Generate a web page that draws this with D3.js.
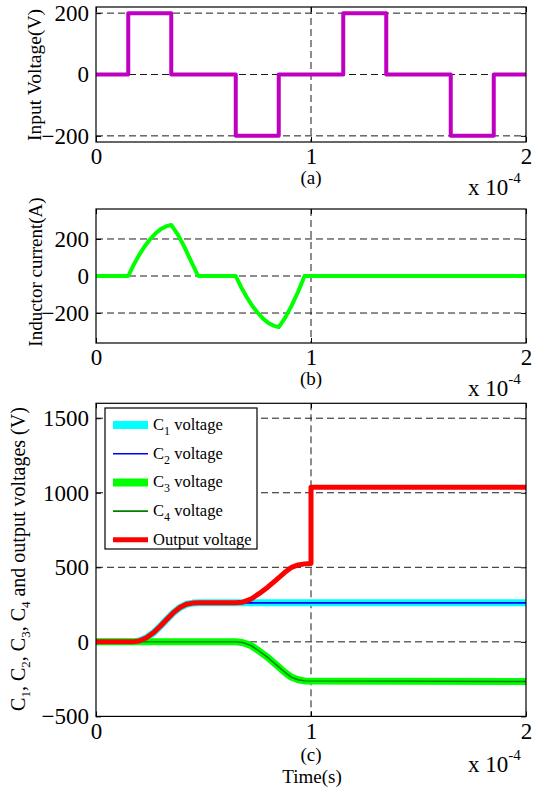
<!DOCTYPE html>
<html>
<head>
<meta charset="utf-8">
<script src="https://cdn.jsdelivr.net/npm/d3@7"></script>
<style>
  body { margin: 0; background: #fff; }
  text { font-family: "Liberation Serif", "Times New Roman", serif; fill: #000; }
</style>
</head>
<body>
<svg id="chart" width="534" height="789"></svg>
<script>
// time is in units of 1e-4 s
const timeTicks = [0, 1, 2];

// (a) input voltage (piecewise constant)
const vinTime = [0, 0.15, 0.35, 0.65, 0.85, 1.15, 1.35, 1.65, 1.85, 2];
const vinLevel = [0, 200, 0, -200, 0, 200, 0, -200, 0, 0];
const vinTicks = [-200, 0, 200];

// (b) inductor current
const iLTime = [0, 0.15, 0.175, 0.2, 0.225, 0.25, 0.275, 0.3, 0.325, 0.35, 0.38, 0.41, 0.44, 0.475,
                0.65, 0.675, 0.7, 0.725, 0.75, 0.775, 0.8, 0.825, 0.85, 0.88, 0.91, 0.94, 0.97, 2];
const iLValue = [0, 0, 60, 112, 158, 196, 228, 252, 268, 276, 225, 160, 85, 0,
                 0, -60, -112, -158, -196, -228, -252, -268, -276, -225, -160, -85, 0, 0];
const iLTicks = [-200, 0, 200];

// (c) capacitor and output voltages
const posTime = [0, 0.17, 0.2, 0.235, 0.27, 0.3, 0.33, 0.36, 0.39, 0.42, 0.45, 0.48, 2];
const c1Volt = [0, 0, 6, 28, 64, 106, 152, 196, 230, 252, 260, 262, 262];
const c2Volt = [0, 0, 6, 28, 64, 106, 152, 196, 230, 252, 260, 262, 262];
const negTime = [0, 0.65, 0.68, 0.72, 0.76, 0.8, 0.84, 0.88, 0.91, 0.94, 0.97, 2];
const c3Volt = [0, 0, -4, -24, -63, -106, -156, -206, -238, -254, -262, -266];
const c4Volt = [0, 0, -4, -24, -63, -106, -156, -206, -238, -254, -262, -266];
const outTime = [0, 0.17, 0.2, 0.235, 0.27, 0.3, 0.33, 0.36, 0.39, 0.42, 0.45, 0.48, 0.65,
                 0.68, 0.72, 0.76, 0.8, 0.84, 0.88, 0.91, 0.94, 0.97, 1.0, 1.0, 2];
const outVolt = [0, 0, 6, 28, 64, 106, 152, 196, 230, 252, 260, 262, 262,
                 265, 286, 325, 368, 418, 468, 500, 516, 523, 526, 1037, 1037];
const outTicks = [-500, 0, 500, 1000, 1500];
const legendNames = [["C", "1", " voltage"], ["C", "2", " voltage"], ["C", "3", " voltage"],
                     ["C", "4", " voltage"], ["Output voltage", "", ""]];

const serif = "'Liberation Serif', 'Times New Roman', serif";
const svg = d3.select("#chart");
const x = d3.scaleLinear().domain([0, 2]).range([96, 526]);

function drawPanel(p) {
  const y = d3.scaleLinear().domain(p.yDomain).range([p.bottom, p.top]);
  const g = svg.append("g");

  // dashed grid
  g.selectAll(".gy").data(p.yTicks.filter(v => v > p.yDomain[0]))
    .enter().append("line")
    .attr("x1", x(0)).attr("x2", x(2))
    .attr("y1", d => y(d)).attr("y2", d => y(d))
    .attr("stroke", "#000").attr("stroke-width", 0.9).attr("stroke-dasharray", "7,4");
  g.append("line")
    .attr("x1", x(1)).attr("x2", x(1)).attr("y1", p.top).attr("y2", p.bottom)
    .attr("stroke", "#000").attr("stroke-width", 0.9).attr("stroke-dasharray", "7,4");

  // axes (MATLAB style, inward ticks)
  g.append("g").attr("transform", `translate(${x(0)},0)`)
    .call(d3.axisLeft(y).tickValues(p.yTicks).tickSize(-5).tickPadding(7).tickFormat(d3.format("d")));
  g.append("g").attr("transform", `translate(${x(2)},0)`)
    .call(d3.axisRight(y).tickValues(p.yTicks).tickSize(-5).tickFormat(""));
  g.append("g").attr("transform", `translate(0,${p.bottom})`)
    .call(d3.axisBottom(x).tickValues(timeTicks).tickSize(-5).tickPadding(6).tickFormat(d3.format("d")));
  g.append("g").attr("transform", `translate(0,${p.top})`)
    .call(d3.axisTop(x).tickValues(timeTicks).tickSize(-5).tickFormat(""));
  g.selectAll(".domain").remove();
  g.selectAll(".tick line").attr("stroke", "#000");
  g.selectAll("g").attr("font-family", serif).attr("font-size", 23);

  // data lines
  p.series.forEach(s => {
    const pts = s.t.map((t, i) => [t, s.v[i]]);
    g.append("path")
      .datum(pts)
      .attr("fill", "none")
      .attr("stroke", s.color)
      .attr("stroke-width", s.width)
      .attr("stroke-linejoin", "round")
      .attr("d", d3.line().x(d => x(d[0])).y(d => y(d[1])).curve(s.curve || d3.curveLinear));
  });

  // frame
  g.append("rect")
    .attr("x", x(0)).attr("y", p.top)
    .attr("width", x(2) - x(0)).attr("height", p.bottom - p.top)
    .attr("fill", "none").attr("stroke", "#000").attr("stroke-width", 1.2);

  // y label (subscripts shift down, the next run shifts back)
  const yl = g.append("text")
    .attr("transform", `translate(${p.yLabelX},${p.yLabelY}) rotate(-90)`)
    .attr("text-anchor", "middle")
    .style("font-size", p.yLabelSize + "px");
  let shift = 0;
  p.yLabel.forEach(part => {
    if (part.sub) {
      yl.append("tspan").text(part.sub).attr("dy", 5).style("font-size", "13px");
      shift = -5;
    } else {
      yl.append("tspan").text(part.t).attr("dy", shift);
      shift = 0;
    }
  });

  // caption and exponent
  g.append("text").attr("x", x(1)).attr("y", p.captionY)
    .attr("text-anchor", "middle").style("font-size", "19px").text(p.caption);
  const ex = g.append("text").attr("x", 468).attr("y", p.expY).style("font-size", "23px");
  ex.append("tspan").text("x 10");
  ex.append("tspan").text("-4").attr("dy", -12).style("font-size", "15px");
  return y;
}

drawPanel({
  top: 7, bottom: 142, yDomain: [-220, 220], yTicks: vinTicks,
  yLabel: [{t: "Input Voltage(V)"}], yLabelX: 41, yLabelY: 75, yLabelSize: 19.5,
  caption: "(a)", captionY: 184, expY: 195,
  series: [{t: vinTime, v: vinLevel, color: "#C000C0", width: 4, curve: d3.curveStepAfter}]
});

drawPanel({
  top: 209, bottom: 343, yDomain: [-362, 362], yTicks: iLTicks,
  yLabel: [{t: "Inductor current(A)"}], yLabelX: 42, yLabelY: 272, yLabelSize: 19,
  caption: "(b)", captionY: 385, expY: 396,
  series: [{t: iLTime, v: iLValue, color: "#00FF00", width: 4}]
});

drawPanel({
  top: 403.3, bottom: 716.4, yDomain: [-500, 1600], yTicks: outTicks,
  yLabel: [{t: "C"}, {sub: "1"}, {t: ", C"}, {sub: "2"}, {t: ", C"}, {sub: "3"}, {t: ", C"}, {sub: "4"},
           {t: " and output voltages (V)"}],
  yLabelX: 25, yLabelY: 559, yLabelSize: 20,
  caption: "(c)", captionY: 761, expY: 772,
  series: [
    {t: posTime, v: c1Volt, color: "#00FFFF", width: 7},
    {t: posTime, v: c2Volt, color: "#0000FF", width: 1.8},
    {t: negTime, v: c3Volt, color: "#00FF00", width: 7},
    {t: negTime, v: c4Volt, color: "#008000", width: 1.4},
    {t: outTime, v: outVolt, color: "#FF0000", width: 5}
  ]
});

svg.append("text").attr("x", x(1) + 1).attr("y", 783)
  .attr("text-anchor", "middle").style("font-size", "19px").text("Time(s)");

// legend
const legendColors = ["#00FFFF", "#0000FF", "#00FF00", "#008000", "#FF0000"];
const legendWidths = [8, 1.6, 8, 1.6, 5];
const lg = svg.append("g");
lg.append("rect").attr("x", 105).attr("y", 408).attr("width", 152).attr("height", 141)
  .attr("fill", "#fff").attr("stroke", "#000").attr("stroke-width", 1.2);
legendNames.forEach((nm, i) => {
  const cy = 425 + i * 28.7;
  lg.append("line").attr("x1", 113).attr("x2", 148).attr("y1", cy).attr("y2", cy)
    .attr("stroke", legendColors[i]).attr("stroke-width", legendWidths[i]);
  const t = lg.append("text").attr("x", 153).attr("y", cy + 5).style("font-size", "16.5px");
  t.append("tspan").text(nm[0]);
  if (nm[1]) {
    t.append("tspan").text(nm[1]).attr("dy", 5).style("font-size", "12px");
    t.append("tspan").text(nm[2]).attr("dy", -5);
  }
});
</script>
</body>
</html>
